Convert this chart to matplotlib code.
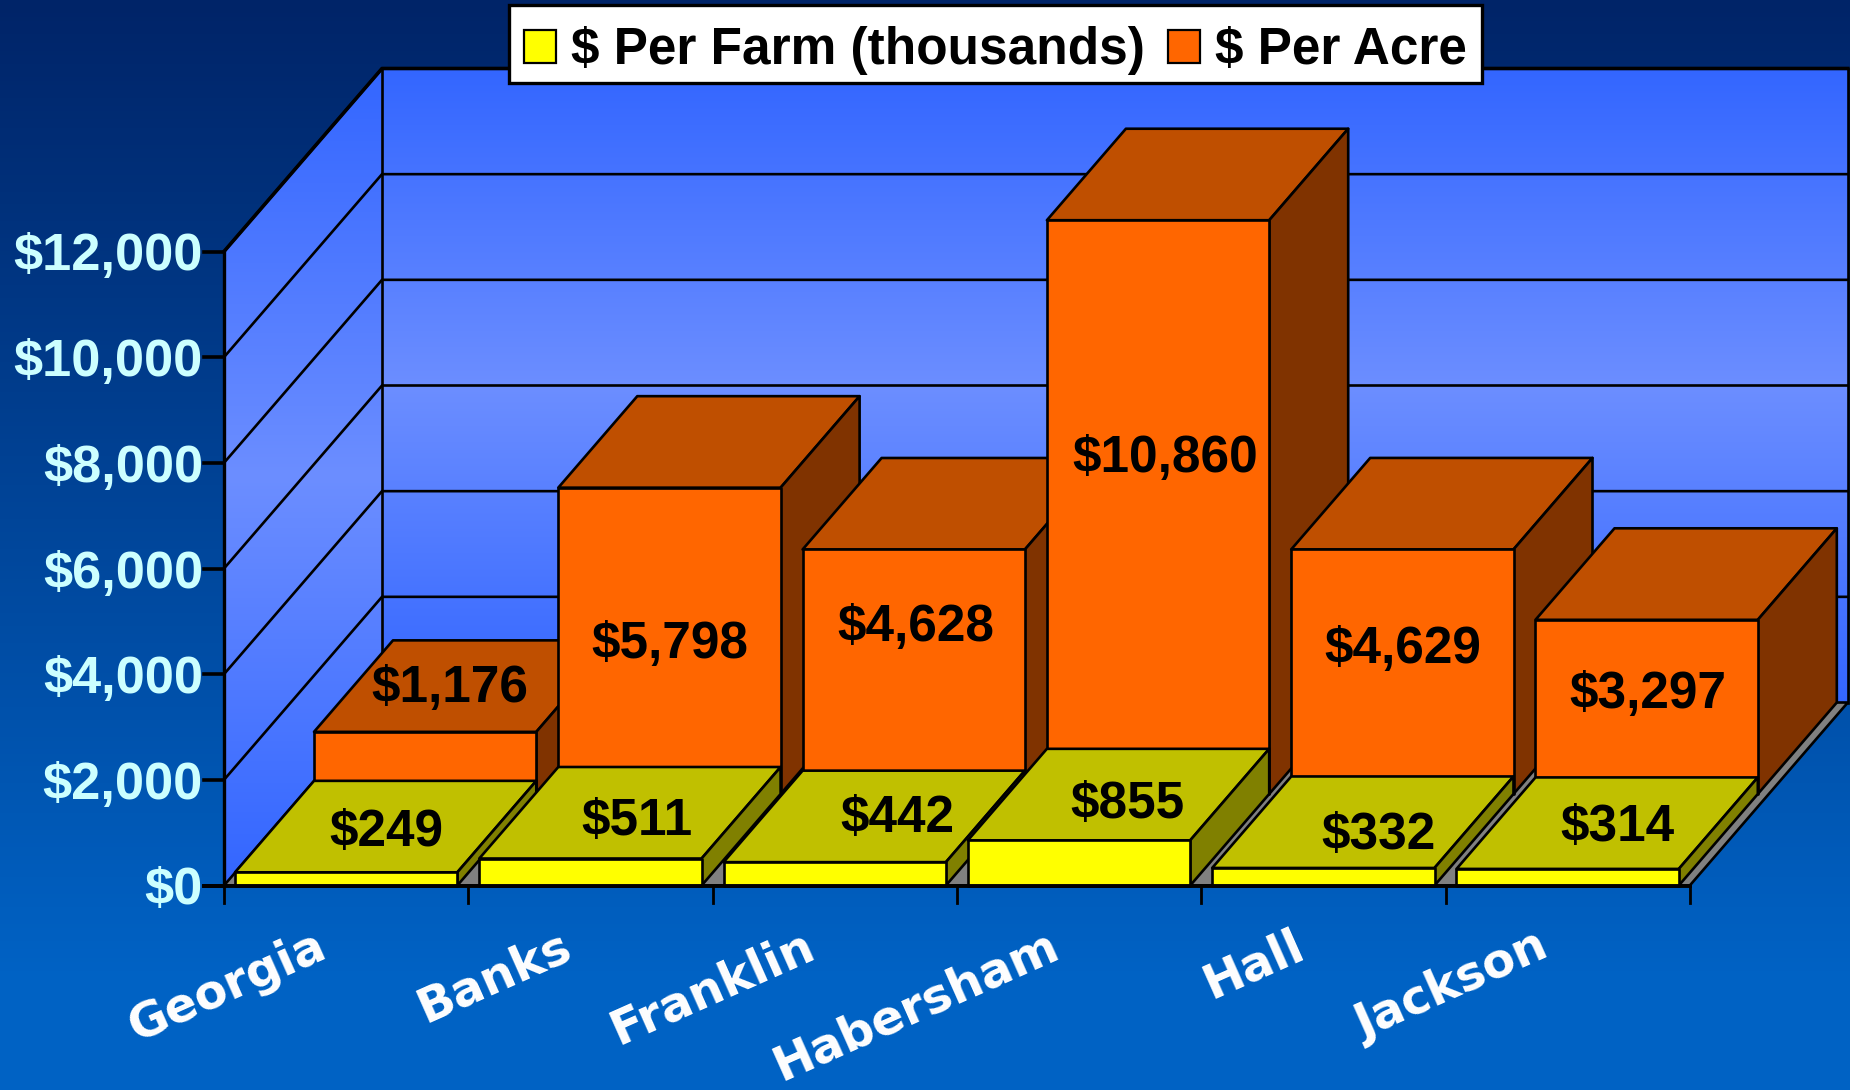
import numpy as np
import matplotlib
matplotlib.use('Agg')
import matplotlib.pyplot as plt
from matplotlib.patches import Polygon, Patch

counties = ['Georgia', 'Banks', 'Franklin', 'Habersham', 'Hall', 'Jackson']
per_farm = [249, 511, 442, 855, 332, 314]
per_acre = [1176, 5798, 4628, 10860, 4629, 3297]
y_ticks = [0, 2000, 4000, 6000, 8000, 10000, 12000]

W, H = 1850, 1090
X0, Y0 = 224, 885.5        # pixel spot of the front corner of the chart
PX_CAT = 244.3             # pixels per category
PX_VAL = 634 / 12000       # pixels per dollar
DEPTH_X = 158 / PX_CAT
DEPTH_Y = 183 / PX_VAL
INSET = 0.045
LW = 1.9

plt.rcParams['font.family'] = ['Liberation Sans', 'DejaVu Sans']


def proj(x, y, d=0.0):
    return (x + d * DEPTH_X, y + d * DEPTH_Y)


def from_px(px, py):
    return ((px - X0) / PX_CAT, (Y0 - py) / PX_VAL)


def face(ax, pts, color, lw=LW):
    ax.add_patch(Polygon(pts, closed=True, facecolor=color, edgecolor='black',
                         linewidth=lw, joinstyle='round', zorder=3))


def box(ax, i, value, d0, d1, front, top, side):
    x1, x2 = i + INSET, i + 1 - INSET
    # d0 sits on the floor, value goes straight up from there
    face(ax, [proj(x1, value, d0), proj(x2, value, d0), proj(x2, value, d1), proj(x1, value, d1)], top)
    face(ax, [proj(x2, 0, d0), proj(x2, 0, d1), proj(x2, value, d1), proj(x2, value, d0)], side)
    face(ax, [proj(x1, 0, d0), proj(x2, 0, d0), proj(x2, value, d0), proj(x1, value, d0)], front)


fig = plt.figure(figsize=(W / 100, H / 100), dpi=100)
ax = fig.add_axes([0, 0, 1, 1])
ax.axis('off')
xlim = from_px(0, 0)[0], from_px(W, 0)[0]
ylim = from_px(0, H)[1], from_px(0, 0)[1]

# slide background
bg = np.linspace(0, 1, 256)[:, None]
bg_col = np.zeros((256, 1, 3))
bg_col[:, :, 0] = 0
bg_col[:, :, 1] = (0x24 + (0x62 - 0x24) * np.clip(bg * 1.12, 0, 1)) / 255
bg_col[:, :, 2] = (0x68 + (0xc4 - 0x68) * np.clip(bg * 1.12, 0, 1)) / 255
ax.imshow(bg_col, extent=[xlim[0], xlim[1], ylim[0], ylim[1]], origin='upper', aspect='auto', zorder=0)

top_val = y_ticks[-1]
n = len(counties)


def wall(pts, y_top_px, y_bot_px):
    t = np.linspace(0, 1, 256)
    k = 1 - np.abs(2 * t - 1)
    col = np.zeros((256, 1, 3))
    col[:, 0, 0] = (0x33 + (0x6c - 0x33) * k) / 255
    col[:, 0, 1] = (0x66 + (0x8e - 0x66) * k) / 255
    col[:, 0, 2] = 1.0
    _, yt = from_px(0, y_top_px)
    _, yb = from_px(0, y_bot_px)
    im = ax.imshow(col, extent=[xlim[0], xlim[1], yb, yt], origin='upper', aspect='auto', zorder=1)
    clip = Polygon(pts, closed=True, transform=ax.transData, facecolor='none', edgecolor='none')
    ax.add_patch(clip)
    im.set_clip_path(clip)


left_wall = [proj(0, 0), proj(0, 0, 1), proj(0, top_val, 1), proj(0, top_val)]
back_wall = [proj(0, 0, 1), proj(n, 0, 1), proj(n, top_val, 1), proj(0, top_val, 1)]
wall(left_wall, 68, 885)
wall(back_wall, 68, 705)
ax.set_xlim(*xlim)
ax.set_ylim(*ylim)

# grid lines on both walls
for v in y_ticks[1:]:
    ax.plot(*zip(proj(0, v), proj(0, v, 1), proj(n, v, 1)), color='black', lw=LW, zorder=2,
            solid_joinstyle='miter')
ax.plot(*zip(proj(0, top_val), proj(0, top_val, 1), proj(n, top_val, 1)), color='black', lw=2.6, zorder=2)
ax.plot(*zip(proj(0, 0, 1), proj(0, top_val, 1)), color='black', lw=LW, zorder=2)
ax.plot(*zip(proj(n, 0, 1), proj(n, top_val, 1)), color='black', lw=LW, zorder=2)

# floor
face(ax, [proj(0, 0), proj(n, 0), proj(n, 0, 1), proj(0, 0, 1)], '#808080')

# back row then front row, left to right so the overlaps come out right
for i, v in enumerate(per_acre):
    box(ax, i, v, 0.5, 1.0, '#ff6600', '#bf4f00', '#803300')
for i, v in enumerate(per_farm):
    box(ax, i, v, 0.0, 0.5, '#ffff00', '#c0c000', '#808000')

# axes and ticks
tick_dx = 20 / PX_CAT
tick_dy = 17 / PX_VAL
ax.plot([0, 0], [0, top_val], color='black', lw=2.4, zorder=6)
ax.plot([-tick_dx, n], [0, 0], color='black', lw=2.8, zorder=6)
for v in y_ticks:
    ax.plot([-tick_dx, 0], [v, v], color='black', lw=2.6, zorder=6)
    ax.text(-21 / PX_CAT, v, f'${v:,}', ha='right', va='center_baseline', color='#ccffff',
            fontsize=37.7, fontweight='bold', zorder=7)
for i in range(n + 1):
    ax.plot([i, i], [0, -tick_dy], color='black', lw=2, zorder=6)

# county labels are tilted up from the tick row
for i, name in enumerate(counties):
    ax.text(i + 0.5 - 0.09, -58 / PX_VAL, name, rotation=24, rotation_mode='anchor', ha='right', va='center',
            color='white', fontsize=34.5, fontweight='bold', family=['DejaVu Sans'], zorder=7)

# value labels, hand placed like in the original slide
farm_label_px = [(386, 827), (637, 816), (897, 813), (1127, 799), (1379, 830), (1617, 822)]
acre_label_px = [(450, 683), (670, 639), (916, 622), (1165, 453), (1403, 644), (1648, 689)]
for v, pos in zip(per_farm, farm_label_px):
    ax.text(*from_px(*pos), f'${v:,}', ha='center', va='center_baseline', fontsize=37, fontweight='bold',
            color='black', zorder=7)
for v, pos in zip(per_acre, acre_label_px):
    ax.text(*from_px(*pos), f'${v:,}', ha='center', va='center_baseline', fontsize=37, fontweight='bold',
            color='black', zorder=7)

handles = [Patch(facecolor='#ffff00', edgecolor='black', linewidth=1.6, label='$ Per Farm (thousands)'),
           Patch(facecolor='#ff6600', edgecolor='black', linewidth=1.6, label='$ Per Acre')]
leg = ax.legend(handles=handles, loc='upper center', bbox_to_anchor=(995.5 / W, 1 - 5 / H), ncol=2,
                frameon=True, fancybox=False, framealpha=1, facecolor='white', edgecolor='black',
                borderpad=0.28, handlelength=0.62, handleheight=0.62, handletextpad=0.3, columnspacing=0.45,
                borderaxespad=0, prop={'family': 'Liberation Sans', 'weight': 'bold', 'size': 37})
leg.get_frame().set_linewidth(2.4)
leg.set_zorder(10)
# text and swatches sit a bit lower in the box than the default
for t in leg.get_texts():
    t.set_y(-7)
for h in leg.legend_handles:
    h.set_y(h.get_y() - 5)

fig.savefig('out.png', dpi=100)
